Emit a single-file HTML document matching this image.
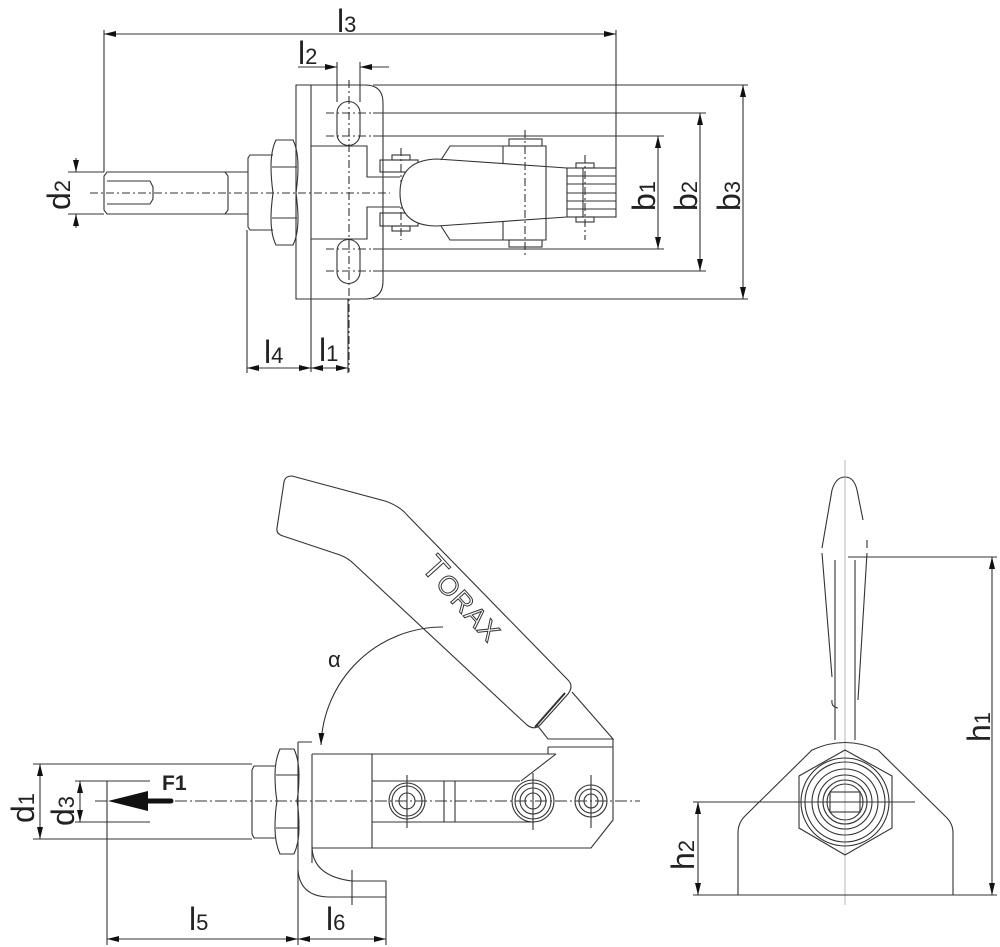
<!DOCTYPE html>
<html><head><meta charset="utf-8"><style>
html,body{margin:0;padding:0;background:#fff}
svg{display:block}
text{font-family:"Liberation Sans",sans-serif;fill:#222}
</style></head><body>
<svg width="1000" height="947" viewBox="0 0 1000 947" xmlns="http://www.w3.org/2000/svg">
<defs>
<marker id="a" viewBox="0 0 12 6" refX="12" refY="3" markerWidth="12" markerHeight="6" markerUnits="userSpaceOnUse" orient="auto-start-reverse"><path d="M0,0L12,3L0,6Z" fill="#111"/></marker>
</defs>
<g fill="none" stroke="#333" stroke-width="1.1">
<!-- ============ TOP VIEW ============ -->
<line x1="104" y1="30" x2="104" y2="172"/><line x1="616" y1="30" x2="616" y2="168"/>
<line x1="104" y1="34" x2="616" y2="34" marker-start="url(#a)" marker-end="url(#a)"/>
<line x1="337" y1="62" x2="337" y2="102"/><line x1="360" y1="62" x2="360" y2="102"/>
<line x1="298" y1="67" x2="337" y2="67" marker-end="url(#a)"/>
<line x1="389" y1="67" x2="360" y2="67" marker-end="url(#a)"/>
<path d="M296,85 H365 Q383,85 383,103 V281 Q383,299 365,299 H296 Z"/>
<line x1="311" y1="85" x2="311" y2="372"/>
<path d="M337,113 A11.5,11.5 0 0 1 360,113 V134 A11.5,11.5 0 0 1 337,134 Z"/>
<path d="M337,251 A11.5,11.5 0 0 1 360,251 V272 A11.5,11.5 0 0 1 337,272 Z"/>
<line x1="373" y1="85" x2="748" y2="85"/><line x1="373" y1="299" x2="748" y2="299"/>
<line x1="373" y1="113" x2="706" y2="113"/><line x1="373" y1="271" x2="706" y2="271"/>
<line x1="373" y1="136" x2="664" y2="136"/><line x1="373" y1="249" x2="664" y2="249"/>
<g stroke-dasharray="8 3 2 3">
<line x1="326" y1="113" x2="373" y2="113"/><line x1="326" y1="136" x2="373" y2="136"/>
<line x1="326" y1="249" x2="373" y2="249"/><line x1="326" y1="271" x2="373" y2="271"/>
<line x1="90" y1="193" x2="390" y2="193"/>
<line x1="349" y1="80" x2="349" y2="372"/>
<line x1="401" y1="148" x2="401" y2="240"/>
<line x1="525" y1="130" x2="525" y2="258"/>
<line x1="585" y1="155" x2="585" y2="240"/>
</g>
<path d="M311,146 H367 V177 H400 M400,207 H367 V239 H311"/>
<path d="M276,140 H293 Q298,150 298,167 Q298,178 296,193 Q298,208 298,218 Q298,235 293,245 H276 Q271,235 271,218 Q271,208 273,193 Q271,178 271,167 Q271,150 276,140 Z"/>
<line x1="272" y1="167" x2="297" y2="167"/><line x1="272" y1="218" x2="297" y2="218"/>
<path d="M273,155 H250 L248,158 V227 L250,230 H273"/>
<path d="M248,172 H107 L104,176 V210 L107,214 H248"/>
<path d="M225,172 L228,176 V210 L225,214"/>
<path d="M107,181 H150 L153,187 V199 L150,204 H107"/>
<rect x="380" y="160" width="38" height="12"/><rect x="392" y="155" width="18" height="5"/>
<rect x="380" y="213" width="38" height="13"/><rect x="392" y="226" width="18" height="5"/>
<path d="M437,159 L567,168 M437,226 L567,217 M437,159 Q400,160 400,193 Q400,226 437,226" fill="#fff"/>
<path d="M441,160 L450,146 H546 V240 H450 L441,226"/>
<line x1="503" y1="146" x2="503" y2="163"/><line x1="503" y1="222" x2="503" y2="240"/>
<rect x="509" y="139" width="33" height="7"/><rect x="509" y="240" width="33" height="7"/>
<rect x="567" y="168" width="49" height="49"/>
<rect x="576" y="163" width="18" height="5"/><rect x="576" y="217" width="18" height="5"/>
<path d="M567,176 H616 M567,184 H616 M567,193 H616 M567,201 H616 M567,209 H616"/>
<line x1="583" y1="168" x2="583" y2="217"/>
<line x1="658" y1="136" x2="658" y2="249" marker-start="url(#a)" marker-end="url(#a)"/>
<line x1="700" y1="113" x2="700" y2="271" marker-start="url(#a)" marker-end="url(#a)"/>
<line x1="743" y1="85" x2="743" y2="299" marker-start="url(#a)" marker-end="url(#a)"/>
<line x1="68" y1="172" x2="104" y2="172"/><line x1="68" y1="214" x2="104" y2="214"/>
<line x1="76" y1="158" x2="76" y2="172" marker-end="url(#a)"/>
<line x1="76" y1="228" x2="76" y2="214" marker-end="url(#a)"/>
<line x1="247" y1="230" x2="247" y2="373"/><line x1="348" y1="299" x2="348" y2="373"/>
<line x1="247" y1="368" x2="311" y2="368" marker-start="url(#a)" marker-end="url(#a)"/>
<line x1="311" y1="368" x2="348" y2="368" marker-start="url(#a)" marker-end="url(#a)"/>

<!-- ============ FRONT VIEW ============ -->
<path d="M292,476 Q285,476 284,482 L277,528 Q276,534 283,536 L340,555 Q348,558 354,564 L527,725 Q535,731 541,724 L568,694 Q574,686 568,680 L408,516 Q400,506 385,501 Z"/>
<line x1="535" y1="727" x2="565" y2="693" stroke-width="2"/>
<path d="M537,725 L548,739 H613 L572,692"/>
<line x1="548" y1="747" x2="613" y2="747"/>
<path d="M312,754 H548 L548,747 M556,754 H548 M556,754 L521,781"/>
<path d="M613,739 V820 L591,848 H312"/>
<line x1="312" y1="754" x2="312" y2="863"/>
<line x1="372" y1="754" x2="372" y2="848"/>
<path d="M372,781 H520 M372,822 H535"/>
<line x1="444" y1="781" x2="444" y2="822"/><line x1="455" y1="781" x2="455" y2="822"/>
<circle cx="407" cy="801" r="18"/><circle cx="407" cy="801" r="15"/><circle cx="407" cy="801" r="8"/>
<circle cx="533" cy="801" r="21"/><circle cx="533" cy="801" r="18"/><circle cx="533" cy="801" r="13"/><circle cx="533" cy="801" r="8"/>
<circle cx="591" cy="801" r="16"/><circle cx="591" cy="801" r="12"/><circle cx="591" cy="801" r="7"/>
<path d="M407,775 V828 M533,773 V830 M591,775 V828"/>
<path d="M298,742 H312 M298,742 V870 Q300,897 330,897 H386 V881 H352 Q312,876 312,846"/>
<line x1="352" y1="870" x2="352" y2="905"/>
<path d="M280,749 H294 Q299,760 299,775 Q299,790 297,801 Q299,812 299,828 Q299,843 294,854 H280 Q275,843 275,828 Q275,812 277,801 Q275,790 275,775 Q275,760 280,749 Z"/>
<line x1="276" y1="775" x2="298" y2="775"/><line x1="276" y1="828" x2="298" y2="828"/>
<path d="M275,766 H254 L252,770 V834 L254,838 H275"/>
<path d="M252,764 H107 M252,839 H107"/>
<path d="M107,781 V822 M107,781 H150 M107,822 H150"/>
<line x1="95" y1="801" x2="640" y2="801" stroke-dasharray="12 3 2 3"/>
<path d="M443,627 A122,122 0 0 0 321,745" marker-end="url(#a)"/>
<line x1="33" y1="764" x2="107" y2="764"/><line x1="33" y1="839" x2="107" y2="839"/>
<line x1="40" y1="764" x2="40" y2="839" marker-start="url(#a)" marker-end="url(#a)"/>
<line x1="75" y1="781" x2="107" y2="781"/><line x1="75" y1="822" x2="107" y2="822"/>
<line x1="80" y1="781" x2="80" y2="822" marker-start="url(#a)" marker-end="url(#a)"/>
<line x1="107" y1="822" x2="107" y2="945"/><line x1="298" y1="870" x2="298" y2="945"/><line x1="386" y1="897" x2="386" y2="945"/>
<line x1="107" y1="939" x2="298" y2="939" marker-start="url(#a)" marker-end="url(#a)"/>
<line x1="298" y1="939" x2="386" y2="939" marker-start="url(#a)" marker-end="url(#a)"/>

<!-- ============ END VIEW ============ -->
<path d="M832,490 Q836,477 845,477 Q854,477 857,490"/>
<path d="M832,490 L822,548 M857,490 L863,520 M867,540 L867,548"/>
<path d="M822,553 L832,677 M867,553 L858,700"/>
<path d="M835,560 V740 M855,560 V740"/>
<path d="M832,700 Q831,707 838,708"/>
<line x1="845" y1="460" x2="845" y2="905" stroke="#999" stroke-width="0.7"/>
<path d="M738,895 V833 Q738,823 745,816 L812,750 Q845,735 878,750 L945,816 Q953,823 953,833 V895 Z"/>
<polygon points="845,750 892,776 892,828 845,855 799,828 799,776"/>
<circle cx="845" cy="802" r="44"/><circle cx="845" cy="802" r="40"/><circle cx="845" cy="802" r="33"/>
<circle cx="845" cy="802" r="27"/><circle cx="845" cy="802" r="22"/><circle cx="845" cy="802" r="18"/>
<rect x="830" y="792" width="30" height="20"/>
<line x1="830" y1="802" x2="860" y2="802"/>
<line x1="848" y1="557" x2="997" y2="557"/><line x1="693" y1="895" x2="997" y2="895"/>
<line x1="992" y1="557" x2="992" y2="895" marker-start="url(#a)" marker-end="url(#a)"/>
<line x1="693" y1="802" x2="915" y2="802"/>
<line x1="698" y1="802" x2="698" y2="895" marker-start="url(#a)" marker-end="url(#a)"/>
</g>

<line x1="171" y1="801" x2="145" y2="801" stroke="#111" stroke-width="5" stroke-linecap="round"/>
<polygon points="108,801 148,791 148,811" fill="#111"/>
<text x="162" y="790" font-size="21" font-weight="bold">F1</text>

<text x="0" y="0" transform="translate(420,568) rotate(48)" font-size="34" stroke="#333" stroke-width="1" letter-spacing="1" style="fill:none">T<tspan font-size="27">ORAX</tspan></text>

<g font-size="32">
<text x="337" y="32">l<tspan font-size="22">3</tspan></text>
<text x="298" y="64">l<tspan font-size="22">2</tspan></text>
<text x="264" y="363">l<tspan font-size="22">4</tspan></text>
<text x="319" y="361">l<tspan font-size="22">1</tspan></text>
<text x="189" y="930">l<tspan font-size="22">5</tspan></text>
<text x="326" y="930">l<tspan font-size="22">6</tspan></text>
<text transform="translate(70,210) rotate(-90)">d<tspan font-size="22">2</tspan></text>
<text transform="translate(655,211) rotate(-90)">b<tspan font-size="22">1</tspan></text>
<text transform="translate(697,211) rotate(-90)">b<tspan font-size="22">2</tspan></text>
<text transform="translate(740,211) rotate(-90)">b<tspan font-size="22">3</tspan></text>
<text transform="translate(34,823) rotate(-90)">d<tspan font-size="22">1</tspan></text>
<text transform="translate(74,826) rotate(-90)">d<tspan font-size="22">3</tspan></text>
<text transform="translate(694,870) rotate(-90)">h<tspan font-size="22">2</tspan></text>
<text transform="translate(990,742) rotate(-90)">h<tspan font-size="22">1</tspan></text>
</g>
<text x="328" y="667" font-size="22">α</text>
</svg>
</body></html>
